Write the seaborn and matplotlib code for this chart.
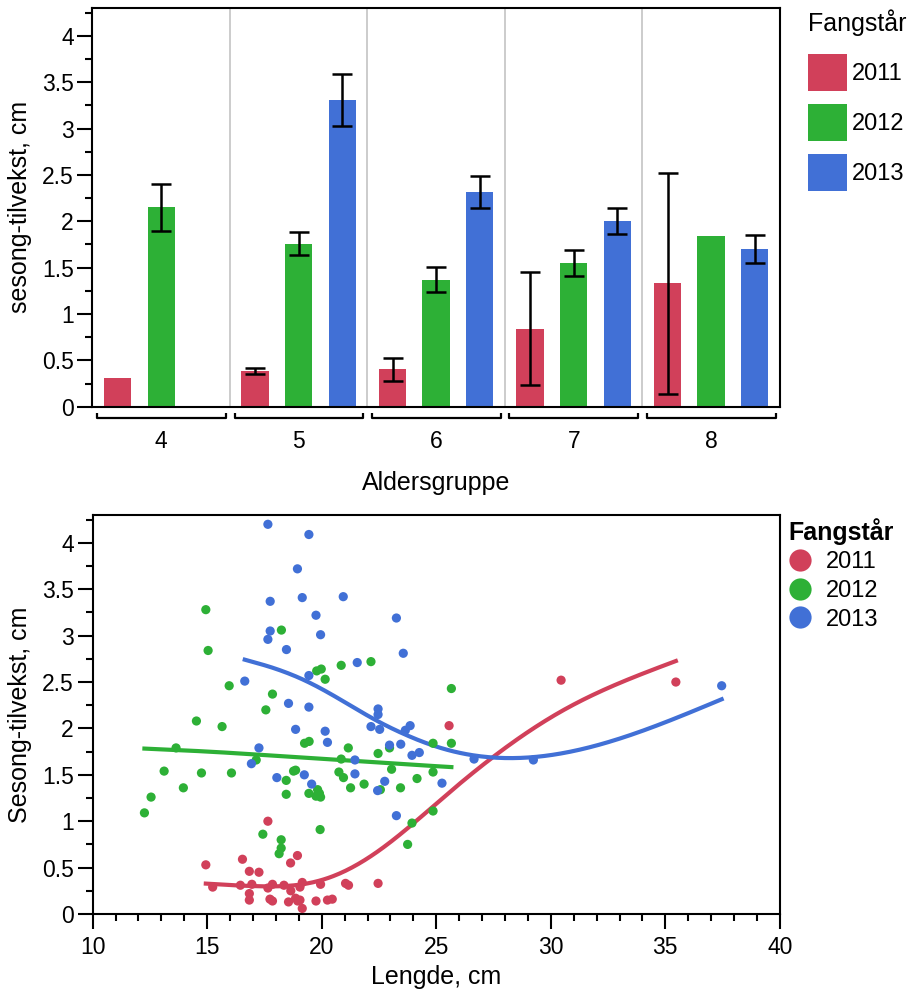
import numpy as np
import pandas as pd
import matplotlib
matplotlib.use("Agg")
import matplotlib.pyplot as plt
import matplotlib.transforms as mtransforms
from matplotlib.patches import Patch
from matplotlib.lines import Line2D
from matplotlib.ticker import MultipleLocator, FuncFormatter
import seaborn as sns

# ---------------- data ----------------
years = ["2011", "2012", "2013"]
palette = {"2011": "#D1405A", "2012": "#2DB036", "2013": "#4170D6"}

age_groups = ["4", "5", "6", "7", "8"]
# mean seasonal growth per age group (None = no fish that year)
growth_2011 = [0.31, 0.385, 0.405, 0.84, 1.33]
growth_2012 = [2.15, 1.76, 1.37, 1.55, 1.84]
growth_2013 = [None, 3.31, 2.315, 2.005, 1.70]
# half-width of error bars
err_2011 = [None, 0.03, 0.125, 0.61, 1.19]
err_2012 = [0.255, 0.125, 0.135, 0.145, None]
err_2013 = [None, 0.28, 0.175, 0.14, 0.15]

# individual fish: length (cm) and seasonal growth (cm)
len_2011 = [17.65, 14.94, 16.54, 18.94, 18.64, 16.84, 17.26, 15.24, 16.45, 16.95,
            17.65, 17.85, 18.35, 18.65, 19.05, 19.15, 19.95, 21.04, 21.17, 22.46,
            16.84, 16.84, 17.74, 17.85, 18.55, 18.86, 19.05, 18.95, 19.15, 19.75,
            20.25, 20.46, 25.56, 30.45, 35.46]
gr_2011 = [1.00, 0.53, 0.59, 0.63, 0.55, 0.46, 0.45, 0.29, 0.31, 0.32,
           0.28, 0.32, 0.31, 0.25, 0.29, 0.34, 0.32, 0.33, 0.31, 0.33,
           0.22, 0.15, 0.16, 0.14, 0.13, 0.17, 0.15, 0.14, 0.06, 0.14,
           0.15, 0.16, 2.03, 2.52, 2.50]

len_2012 = [14.94, 18.24, 15.04, 20.85, 22.15, 19.78, 19.98, 20.15, 15.96, 17.85,
            17.56, 14.53, 15.65, 19.25, 19.45, 21.16, 13.64, 17.14, 13.12, 14.75,
            16.06, 13.96, 12.55, 12.26, 18.77, 18.86, 18.45, 18.45, 19.44, 19.82,
            19.75, 19.95, 19.90, 20.85, 20.75, 20.95, 21.26, 21.85, 22.46, 19.93,
            17.43, 18.23, 18.23, 18.14, 25.66, 25.66, 24.86, 22.96, 23.05, 22.56,
            23.44, 24.16, 24.86, 24.86, 23.94, 23.75]
gr_2012 = [3.28, 3.06, 2.84, 2.68, 2.72, 2.62, 2.64, 2.53, 2.46, 2.37,
           2.20, 2.08, 2.02, 1.84, 1.86, 1.79, 1.79, 1.66, 1.54, 1.52,
           1.52, 1.36, 1.26, 1.09, 1.54, 1.55, 1.44, 1.29, 1.30, 1.34,
           1.27, 1.26, 1.30, 1.67, 1.53, 1.47, 1.36, 1.40, 1.73, 0.91,
           0.86, 0.80, 0.71, 0.65, 2.43, 1.84, 1.84, 1.79, 1.56, 1.34,
           1.36, 1.46, 1.53, 1.11, 0.98, 0.75]

len_2013 = [17.65, 19.44, 18.94, 17.75, 19.15, 20.94, 19.75, 17.75, 17.65, 19.95,
            18.46, 21.55, 19.44, 16.64, 18.55, 19.44, 18.86, 20.15, 20.25, 17.26,
            23.26, 23.56, 22.46, 22.46, 22.15, 22.53, 23.86, 23.65, 22.96, 23.45,
            16.93, 18.04, 19.24, 19.56, 21.45, 21.45, 22.44, 22.75, 23.94, 24.26,
            25.25, 23.26, 26.65, 29.24, 37.46]
gr_2013 = [4.20, 4.09, 3.72, 3.37, 3.41, 3.42, 3.22, 3.05, 2.96, 3.01,
           2.85, 2.71, 2.57, 2.51, 2.27, 2.23, 1.99, 1.97, 1.85, 1.79,
           3.19, 2.81, 2.21, 2.15, 2.02, 1.99, 2.03, 1.98, 1.82, 1.83,
           1.62, 1.47, 1.50, 1.40, 1.66, 1.51, 1.33, 1.43, 1.71, 1.74,
           1.41, 1.06, 1.67, 1.66, 2.46]

# smoothing parameter (lambda) of the cubic smoothing spline per year
spline_lambda = {"2011": 60.0, "2012": 2000.0, "2013": 60.0}


def smoothing_spline(x, y, lam, grid):
    """Natural cubic smoothing spline (Reinsch), evaluated on grid."""
    x = np.asarray(x, float)
    y = np.asarray(y, float)
    xs, inv, cnt = np.unique(x, return_inverse=True, return_counts=True)
    ys = np.bincount(inv, weights=y) / cnt
    n = len(xs)
    h = np.diff(xs)
    Q = np.zeros((n, n - 2))
    R = np.zeros((n - 2, n - 2))
    for j in range(1, n - 1):
        Q[j - 1, j - 1] = 1 / h[j - 1]
        Q[j, j - 1] = -1 / h[j - 1] - 1 / h[j]
        Q[j + 1, j - 1] = 1 / h[j]
        R[j - 1, j - 1] = (h[j - 1] + h[j]) / 3
        if j < n - 2:
            R[j - 1, j] = R[j, j - 1] = h[j] / 6
    K = Q @ np.linalg.solve(R, Q.T)
    W = np.diag(cnt.astype(float))
    g = np.linalg.solve(W + lam * K, W @ ys)
    gam = np.zeros(n)
    gam[1:-1] = np.linalg.solve(R, Q.T @ g)
    i = np.clip(np.searchsorted(xs, grid) - 1, 0, n - 2)
    a = grid - xs[i]
    b = xs[i + 1] - grid
    hh = h[i]
    return (a * g[i + 1] + b * g[i]) / hh - a * b / 6 * (
        (1 + a / hh) * gam[i + 1] + (1 + b / hh) * gam[i])


# ---------------- tables ----------------
bar_rows = []
for yr, vals, errs in zip(years, [growth_2011, growth_2012, growth_2013],
                          [err_2011, err_2012, err_2013]):
    for g, v, e in zip(age_groups, vals, errs):
        if v is not None:
            bar_rows.append({"age": g, "year": yr, "growth": v,
                             "err": np.nan if e is None else e})
bars = pd.DataFrame(bar_rows)

fish = pd.concat([
    pd.DataFrame({"length": len_2011, "growth": gr_2011, "year": "2011"}),
    pd.DataFrame({"length": len_2012, "growth": gr_2012, "year": "2012"}),
    pd.DataFrame({"length": len_2013, "growth": gr_2013, "year": "2013"}),
], ignore_index=True)

curves = []
for yr in years:
    sub = fish[fish.year == yr]
    grid = np.linspace(sub.length.min(), sub.length.max(), 300)
    fit = smoothing_spline(sub.length, sub.growth, spline_lambda[yr], grid)
    curves.append(pd.DataFrame({"length": grid, "growth": fit, "year": yr}))
curves = pd.concat(curves, ignore_index=True)

# ---------------- style ----------------
plt.rcParams.update({
    "font.family": ["Liberation Sans", "DejaVu Sans"],
    "axes.linewidth": 1.5,
    "xtick.major.width": 1.5, "ytick.major.width": 1.5,
    "xtick.minor.width": 1.5, "ytick.minor.width": 1.5,
    "xtick.major.size": 10.5, "ytick.major.size": 10.5,
    "xtick.minor.size": 5, "ytick.minor.size": 5,
    "xtick.labelsize": 16.5, "ytick.labelsize": 16.5,
    "axes.labelsize": 18,
})

fig = plt.figure(figsize=(9.12, 9.91), dpi=100)
ax1 = fig.add_axes([0.1014, 0.5896, 0.7538, 0.4023])
ax2 = fig.add_axes([0.1016, 0.0777, 0.7535, 0.4026])
num_fmt = FuncFormatter(lambda v, p: f"{v:g}")

# ---------------- top: bar chart ----------------
sns.barplot(data=bars, x="age", y="growth", hue="year", order=age_groups,
            hue_order=years, palette=palette, saturation=1, errorbar=None,
            width=0.95, gap=0.37, linewidth=0, ax=ax1, legend=False)

for yr, cont in zip(years, ax1.containers):
    sub = bars[bars.year == yr].set_index("age")
    for bar in cont:
        cx = bar.get_x() + bar.get_width() / 2
        g = age_groups[int(round(cx))]
        if g in sub.index and not np.isnan(sub.loc[g, "err"]):
            ax1.errorbar(cx, sub.loc[g, "growth"], yerr=sub.loc[g, "err"],
                         fmt="none", ecolor="black", elinewidth=1.8,
                         capsize=7.5, capthick=1.8, zorder=5)

for b in np.arange(0.5, len(age_groups) - 0.5, 1):
    ax1.axvline(b, color="#c8c8c8", lw=1.3, zorder=0)

ax1.set_xlim(-0.5, len(age_groups) - 0.5)
ax1.set_ylim(0, 4.3)
ax1.yaxis.set_major_locator(MultipleLocator(0.5))
ax1.yaxis.set_minor_locator(MultipleLocator(0.25))
ax1.yaxis.set_major_formatter(num_fmt)
ax1.tick_params(axis="x", length=0, pad=17)
ax1.tick_params(axis="y", which="both", pad=3)
ax1.set_xlabel("Aldersgruppe", labelpad=13)
ax1.set_ylabel("sesong-tilvekst, cm", labelpad=7)

# group brackets under the axis
blend = mtransforms.blended_transform_factory(ax1.transData, ax1.transAxes)
for i in range(len(age_groups)):
    ax1.plot([i - 0.467, i - 0.467, i + 0.471, i + 0.471],
             [-0.015, -0.029, -0.029, -0.015], transform=blend,
             color="black", lw=1.6, clip_on=False, solid_capstyle="butt")

handles = [Patch(facecolor=palette[y], edgecolor="none") for y in years]
leg1 = ax1.legend(handles, years, title="Fangstår", loc="upper left",
                  bbox_to_anchor=(808 / 912, 1 - 9 / 991),
                  bbox_transform=fig.transFigure, frameon=False,
                  fontsize=17, title_fontsize=18, borderpad=0,
                  handlelength=1.65, handleheight=2.05, handletextpad=0.22,
                  labelspacing=0.55, borderaxespad=0, alignment="left")
# a little more room between the title and the first entry
leg1._legend_box.sep = 13

# ---------------- bottom: scatter + smoothers ----------------
sns.scatterplot(data=fish, x="length", y="growth", hue="year",
                hue_order=years, palette=palette, s=44, linewidth=0,
                ax=ax2, legend=False, zorder=3)
sns.lineplot(data=curves, x="length", y="growth", hue="year",
             hue_order=years, palette=palette, lw=3, sort=False,
             estimator=None, ax=ax2, legend=False, zorder=2)

ax2.set_xlim(10, 40)
ax2.set_ylim(0, 4.3)
ax2.xaxis.set_major_locator(MultipleLocator(5))
ax2.xaxis.set_minor_locator(MultipleLocator(1))
ax2.yaxis.set_major_locator(MultipleLocator(0.5))
ax2.yaxis.set_minor_locator(MultipleLocator(0.25))
ax2.yaxis.set_major_formatter(num_fmt)
ax2.tick_params(axis="y", which="both", pad=3)
ax2.tick_params(axis="x", which="both", pad=5.5)
ax2.set_xlabel("Lengde, cm", labelpad=4)
ax2.set_ylabel("Sesong-tilvekst, cm", labelpad=7)

mhandles = [Line2D([], [], marker="o", ls="", markersize=16,
                   markerfacecolor=palette[y], markeredgewidth=0) for y in years]
ax2.legend(mhandles, years, title="Fangstår", loc="upper left",
           bbox_to_anchor=(788 / 912, 1 - 518 / 991),
           bbox_transform=fig.transFigure, frameon=False,
           fontsize=17, title_fontproperties={"weight": "bold", "size": 18},
           borderpad=0, handlelength=1.0, handletextpad=0.6,
           labelspacing=0.28, borderaxespad=0, alignment="left")

fig.savefig("out.png", dpi=100)
